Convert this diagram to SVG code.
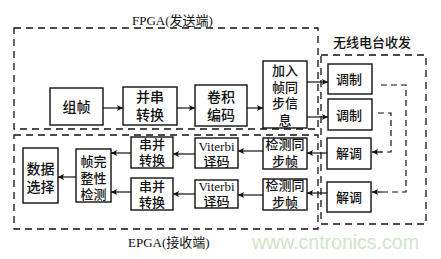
<svg xmlns="http://www.w3.org/2000/svg" width="441" height="259" viewBox="0 0 441 259">
<defs>
<style>
.bg{fill:#fff}
.node{fill:#fff;stroke:#111;stroke-width:1.4}
.t{font-family:"Noto Sans CJK SC","Liberation Serif",serif;font-size:14px;font-weight:500;fill:#111;text-anchor:middle}
.s{font-size:13px}
.lat{font-family:"Liberation Serif","Noto Sans CJK SC",serif;font-weight:normal}
.grp{fill:none;stroke:#111;stroke-width:1.3;stroke-dasharray:7 5}
.c{fill:none;stroke:#111;stroke-width:1.2;marker-end:url(#ah)}
.d{fill:none;stroke:#111;stroke-width:1.2;stroke-dasharray:6 4}
.ttl{font-family:"Liberation Serif","Noto Sans CJK SC",serif;font-size:13px;fill:#111}
</style>
<marker id="ah" viewBox="0 0 10 10" refX="10" refY="5" markerWidth="8" markerHeight="6" markerUnits="userSpaceOnUse" orient="auto">
<path d="M0,0 L10,5 L0,10 L2,5 Z" fill="#111"/>
</marker>
</defs>
<rect class="bg" x="0" y="0" width="441" height="259"/>

<g id="groups">
<rect class="grp" x="14" y="28" width="304" height="101"/>
<rect class="grp" x="14" y="135" width="304" height="94"/>
<rect class="grp" x="321" y="55" width="105" height="169"/>
<text class="ttl" x="132" y="25">FPGA(发送端)</text>
<text class="ttl" x="128" y="247">EPGA(接收端)</text>
<text class="ttl" x="333" y="47" style="font-family:'Noto Sans CJK SC',sans-serif;font-weight:500">无线电台收发</text>
</g>

<g id="connectors">
<line class="c" x1="103" y1="108" x2="123" y2="108"/>
<line class="c" x1="177" y1="108" x2="195" y2="108"/>
<line class="c" x1="247" y1="108" x2="263" y2="108"/>
<line class="c" x1="307" y1="82" x2="328" y2="82"/>
<line class="c" x1="307" y1="117" x2="328" y2="117"/>
<polyline class="d" points="381,85 406,85 406,192 380,192"/>
<line class="c" x1="382" y1="192" x2="372" y2="192"/>
<polyline class="d" points="378,113 391,113 391,152 380,152"/>
<line class="c" x1="382" y1="152" x2="372" y2="152"/>
<line class="c" x1="327" y1="153" x2="307" y2="153"/>
<line class="c" x1="327" y1="193" x2="307" y2="193"/>
<line class="c" x1="263" y1="151" x2="238" y2="151"/>
<line class="c" x1="263" y1="195" x2="238" y2="195"/>
<line class="c" x1="195" y1="154" x2="173" y2="154"/>
<line class="c" x1="195" y1="194" x2="173" y2="194"/>
<line class="c" x1="131" y1="153" x2="111" y2="153"/>
<line class="c" x1="131" y1="192" x2="111" y2="192"/>
<line class="c" x1="76" y1="177" x2="58" y2="177"/>
</g>

<g id="n_zuzhen"><rect class="node" x="50" y="88" width="53" height="37"/><text class="t" x="76.5" y="112">组帧</text></g>
<g id="n_bingchuan"><rect class="node" x="123" y="87" width="54" height="38"/><text class="t" x="150" y="102">并串</text><text class="t" x="150" y="120">转换</text></g>
<g id="n_juanji"><rect class="node" x="195" y="85" width="52" height="41"/><text class="t" x="221" y="102">卷积</text><text class="t" x="221" y="120">编码</text></g>
<g id="n_jiaru"><rect class="node" x="263" y="61" width="44" height="67"/><text class="t s" x="285" y="75">加入</text><text class="t s" x="285" y="91.5">帧同</text><text class="t s" x="285" y="108">步信</text><text class="t s" x="285" y="124.5">息</text></g>
<g id="n_tiaozhi1"><rect class="node" x="328" y="64" width="44" height="30"/><text class="t s" x="349" y="84">调制</text></g>
<g id="n_tiaozhi2"><rect class="node" x="328" y="99" width="44" height="31"/><text class="t s" x="349" y="120">调制</text></g>
<g id="n_jietiao1"><rect class="node" x="327" y="138" width="44" height="31"/><text class="t s" x="349" y="158">解调</text></g>
<g id="n_jietiao2"><rect class="node" x="327" y="182" width="44" height="30"/><text class="t s" x="349" y="202">解调</text></g>
<g id="n_jiance1"><rect class="node" x="263" y="138" width="44" height="31"/><text class="t s" x="285" y="149">检测同</text><text class="t s" x="285" y="166">步帧</text></g>
<g id="n_jiance2"><rect class="node" x="263" y="179" width="44" height="31"/><text class="t s" x="285" y="190">检测同</text><text class="t s" x="285" y="207">步帧</text></g>
<g id="n_viterbi1"><rect class="node" x="195" y="138" width="43" height="30"/><text class="t s lat" x="216.5" y="151">Viterbi</text><text class="t s" x="216.5" y="166">译码</text></g>
<g id="n_viterbi2"><rect class="node" x="195" y="180" width="43" height="28"/><text class="t s lat" x="216.5" y="191">Viterbi</text><text class="t s" x="216.5" y="205.5">译码</text></g>
<g id="n_chuanbing1"><rect class="node" x="131" y="137" width="42" height="31"/><text class="t s" x="152" y="149">串并</text><text class="t s" x="152" y="165">转换</text></g>
<g id="n_chuanbing2"><rect class="node" x="131" y="178" width="42" height="32"/><text class="t s" x="152" y="191">串并</text><text class="t s" x="152" y="207">转换</text></g>
<g id="n_zhenwanzheng"><rect class="node" x="76" y="149" width="35" height="53"/><text class="t s" x="93.5" y="166">帧完</text><text class="t s" x="93.5" y="182.5">整性</text><text class="t s" x="93.5" y="199">检测</text></g>
<g id="n_shuju"><rect class="node" x="23" y="148" width="35" height="55"/><text class="t" x="40.5" y="174">数据</text><text class="t" x="40.5" y="192">选择</text></g>

<text x="252" y="249" style="font-family:'Liberation Sans',sans-serif;font-size:19.5px;fill:#cfe5c8">www.cntronics.com</text>
</svg>
